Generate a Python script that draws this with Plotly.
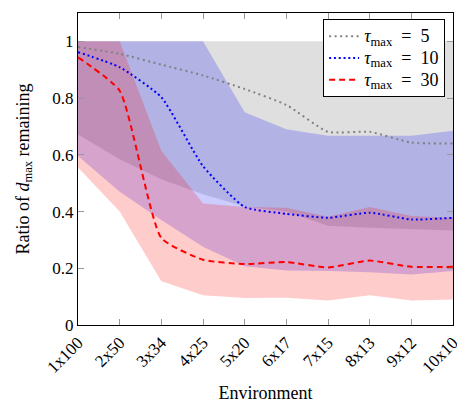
import plotly.graph_objects as go

environments = ["1x100", "2x50", "3x34", "4x25", "5x20", "6x17", "7x15", "8x13", "9x12", "10x10"]

mean_tau5 = [0.98, 0.956, 0.918, 0.88, 0.832, 0.776, 0.681, 0.681, 0.643, 0.640]
upper_tau5 = [1.0, 1.0, 1.0, 1.0, 1.0, 1.0, 1.0, 1.0, 1.0, 1.0]
lower_tau5 = [0.672, 0.584, 0.514, 0.461, 0.418, 0.400, 0.350, 0.343, 0.337, 0.333]

mean_tau10 = [0.962, 0.909, 0.803, 0.560, 0.416, 0.392, 0.378, 0.396, 0.372, 0.378]
upper_tau10 = [1.0, 1.0, 1.0, 1.0, 0.750, 0.690, 0.667, 0.667, 0.667, 0.685]
lower_tau10 = [0.596, 0.470, 0.370, 0.276, 0.207, 0.192, 0.190, 0.186, 0.178, 0.190]

mean_tau30 = [0.944, 0.826, 0.307, 0.230, 0.215, 0.222, 0.203, 0.227, 0.205, 0.205]
upper_tau30 = [1.0, 1.0, 0.614, 0.428, 0.416, 0.413, 0.382, 0.416, 0.384, 0.378]
lower_tau30 = [0.555, 0.400, 0.154, 0.105, 0.095, 0.096, 0.086, 0.105, 0.086, 0.090]

y_tick_vals = [0, 0.2, 0.4, 0.6, 0.8, 1.0]
y_tick_text = ["0", "0.2", "0.4", "0.6", "0.8", "1"]

FONT = "Liberation Serif, Times New Roman, serif"
xs = list(range(len(environments)))

fig = go.Figure()

bands = [
    (upper_tau5, lower_tau5, "rgba(128,128,128,0.25)"),
    (upper_tau10, lower_tau10, "rgba(0,0,255,0.2)"),
    (upper_tau30, lower_tau30, "rgba(255,0,0,0.2)"),
]
for up, lo, col in bands:
    fig.add_trace(go.Scatter(
        x=xs + xs[::-1], y=up + lo[::-1], fill="toself", fillcolor=col,
        line=dict(width=0), mode="lines", showlegend=False, hoverinfo="skip"))

SP = "\u2002"


def legend_label(v):
    return (f'<span style="font-size:18px"><i>τ</i><sub>max</sub>'
            f'{SP}={SP}{v}</span>')


lines = [
    (mean_tau5, "rgb(128,128,128)", "2px,3.5px", legend_label(5)),
    (mean_tau10, "rgb(0,0,255)", "2px,2.8px", legend_label(10)),
    (mean_tau30, "rgb(255,0,0)", "6px,4px", legend_label(30)),
]
for ys, col, dash, name in lines:
    fig.add_trace(go.Scatter(
        x=xs, y=ys, mode="lines", name=name,
        line=dict(color=col, width=2, dash=dash, shape="spline", smoothing=0.5)))

fig.update_layout(
    width=465, height=405,
    margin=dict(l=70, r=20, t=5, b=88),
    paper_bgcolor="white", plot_bgcolor="white",
    font=dict(family=FONT, size=17, color="black"),
    showlegend=True,
    legend=dict(x=0.979, y=0.98, xanchor="right", yanchor="top",
                bgcolor="white", bordercolor="black", borderwidth=1,
                font=dict(family=FONT, size=14.5), tracegroupgap=0,
                itemwidth=30),
    xaxis=dict(range=[0, 9], tickvals=xs, ticktext=environments, tickangle=-45,
               showline=True, linecolor="black", linewidth=1, mirror="ticks",
               ticks="inside", ticklen=6, tickcolor="#999999", showgrid=False,
               zeroline=False, tickfont=dict(size=17), automargin=False,
               title=dict(text="Environment", font=dict(size=18), standoff=10)),
    yaxis=dict(range=[0, 1.1], tickvals=y_tick_vals, ticktext=y_tick_text,
               showline=True, linecolor="black", linewidth=1, mirror="ticks",
               ticks="inside", ticklen=6, tickcolor="#999999", showgrid=False,
               zeroline=False, tickfont=dict(size=17), automargin=False,
               title=dict(text="Ratio of <i>d</i><sub>max</sub> remaining",
                          font=dict(size=18), standoff=18)),
)

fig.write_html("out.html")
